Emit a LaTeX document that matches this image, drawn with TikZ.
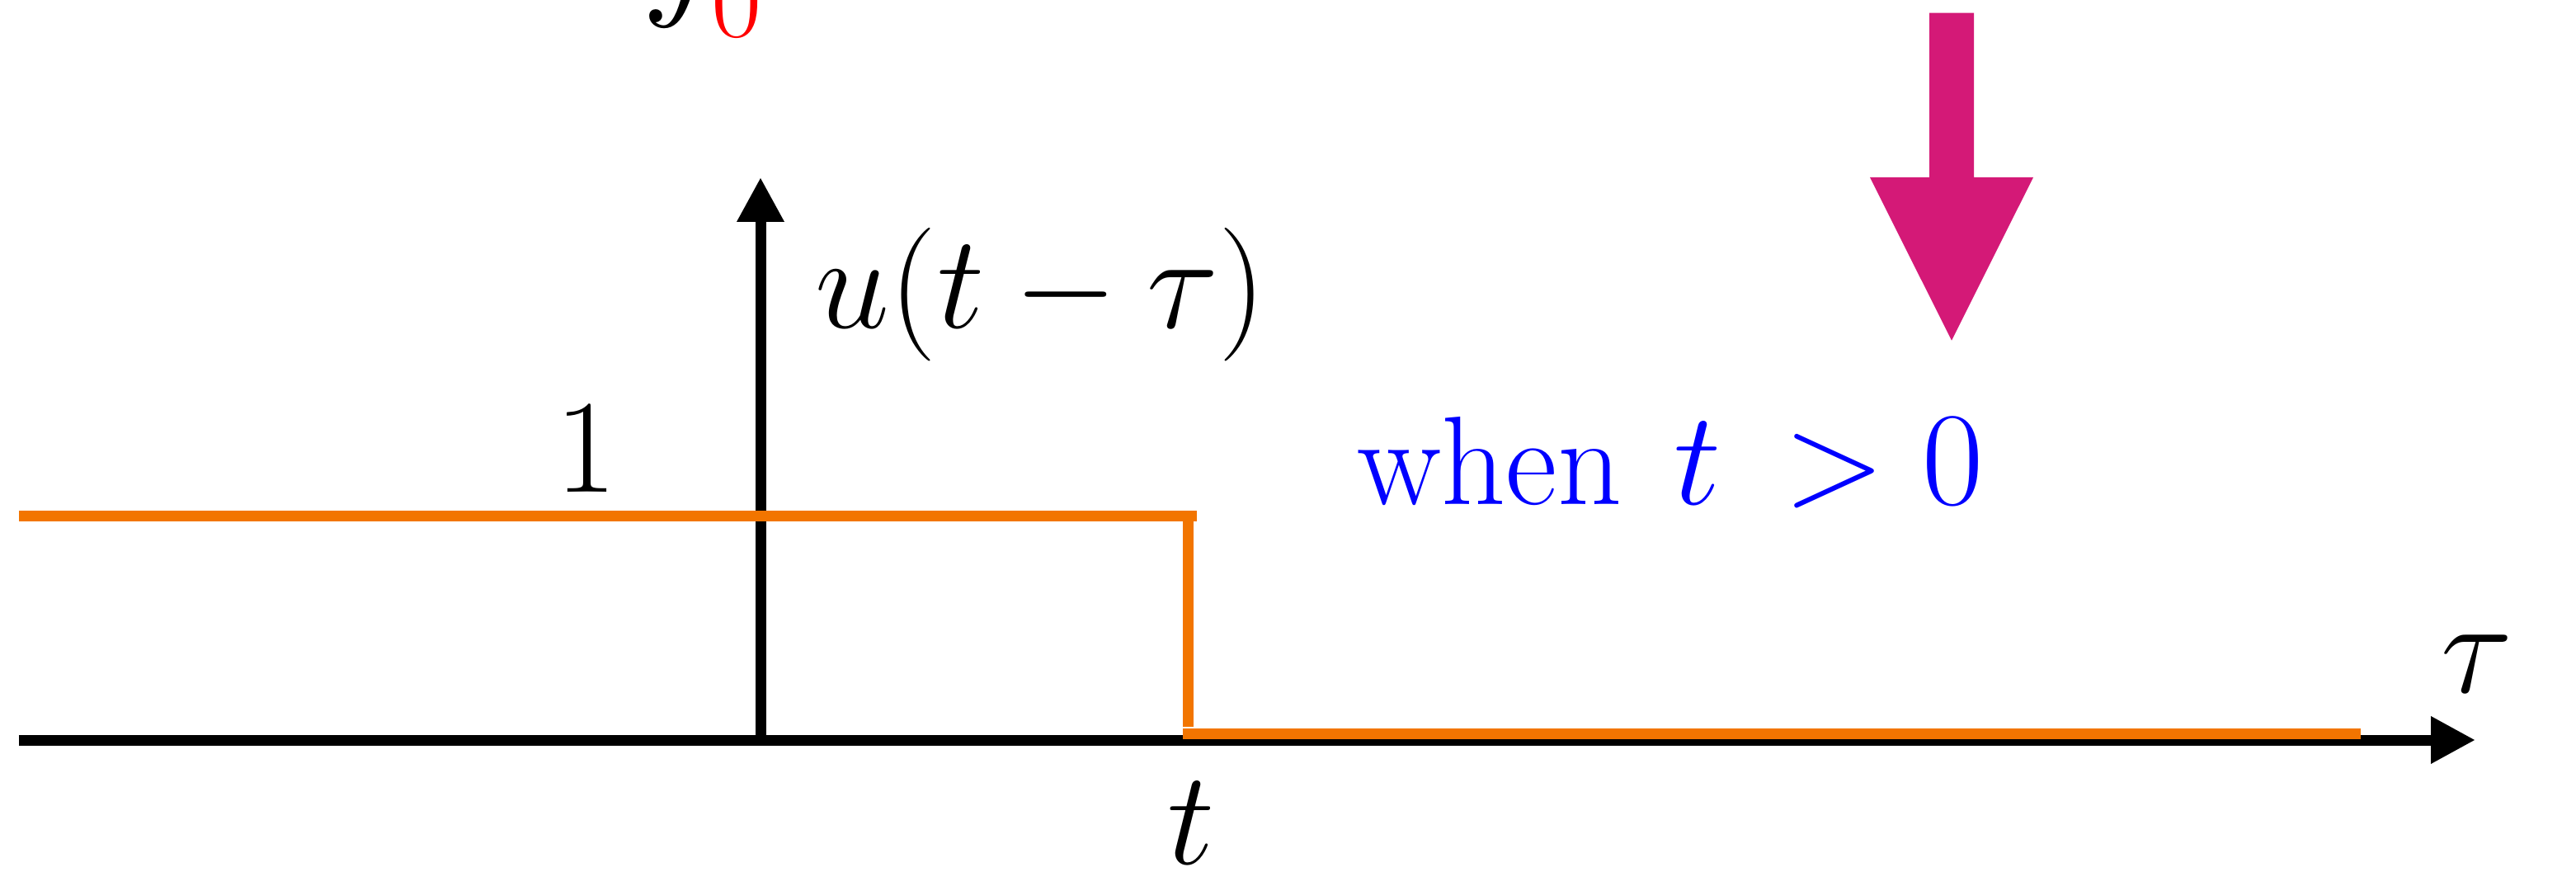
\documentclass[tikz,border=0pt]{standalone}
\usepackage{fix-cm}
\usepackage{amsmath, amssymb}
\usepackage{tikz}
\usepackage{xcolor}
\usetikzlibrary{arrows.meta, positioning}

\definecolor{steporange}{RGB}{242,117,0}
\definecolor{arrowmagenta}{RGB}{212,25,119}

\begin{document}
\begin{tikzpicture}[
    axis/.style={line width=3.7pt, -{Triangle[length=5.4mm, width=5.4mm]}},
    stepline/.style={steporange, line width=3.7pt},
    lbl/.style={inner sep=0pt, font=\fontsize{46}{55}\selectfont}
]
    \useasboundingbox (0,0) rectangle (31.23,10.56);

    % Formula cut off at the top edge
    \node[lbl, anchor=south west] (intsign) at (7.78,10.21) {$\displaystyle\int$};
    \node[lbl, font=\fontsize{38}{45}\selectfont, text=red, anchor=base] (lowlim) at (8.935,10.11) {$0$};

    % Axes
    \coordinate (tauleft) at (0.23,1.59);
    \coordinate (tauright) at (30.01,1.59);
    \coordinate (origin) at (9.22,1.59);
    \coordinate (utop) at (9.22,8.41);
    \draw[axis] (tauleft) -- (tauright);
    \draw[axis] (origin) -- (utop);

    % Step u(t - tau)
    \coordinate (stepA) at (0.23,4.305);
    \coordinate (stepB) at (14.51,4.305);
    \coordinate (stepC) at (14.40,4.24);
    \coordinate (stepD) at (14.40,1.75);
    \coordinate (stepE) at (14.34,1.67);
    \coordinate (stepF) at (28.62,1.67);
    \draw[stepline] (stepA) -- (stepB);
    \draw[stepline] (stepC) -- (stepD);
    \draw[stepline] (stepE) -- (stepF);

    % Labels
    \node[lbl, anchor=base] (one) at (7.11,4.59) {$1$};
    \node[lbl, anchor=base west] (ulabel) at (9.88,6.58) {$u(t-\tau)$};
    \node[lbl, anchor=base] (tlabel) at (14.44,0.09) {$t$};
    \node[lbl, anchor=base] (taulabel) at (30.03,2.17) {$\tau$};
    \node[lbl, text=blue, anchor=base west] (when) at (16.45,4.45)
        {{\fontsize{43.5}{52}\selectfont when}$\mskip7mu t\mskip3.5mu>0$};

    % Big arrow
    \fill[arrowmagenta] (23.39,10.403) -- (23.93,10.403) -- (23.93,8.41) -- (24.65,8.41)
        -- (23.66,6.433) -- (22.67,8.41) -- (23.39,8.41) -- cycle;
\end{tikzpicture}
\end{document}
